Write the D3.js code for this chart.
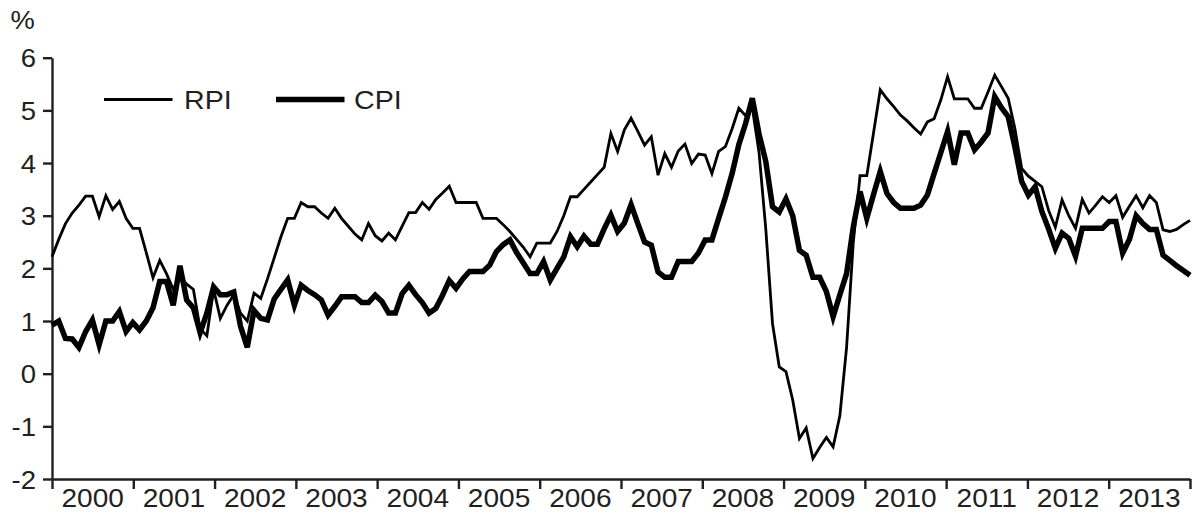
<!DOCTYPE html>
<html>
<head>
<meta charset="utf-8">
<script src="https://cdn.jsdelivr.net/npm/d3@7"></script>
<style>
  html, body { margin: 0; padding: 0; background: #fff; }
  svg { display: block; }
  text { font-family: "Liberation Sans", Arial, Helvetica, sans-serif; fill: #231f20; }
</style>
</head>
<body>
<svg id="chart" width="1192" height="515"></svg>
<script>
// Monthly observations, Jan 2000 onwards (12-month % change)
const years = [2000, 2001, 2002, 2003, 2004, 2005, 2006, 2007, 2008, 2009, 2010, 2011, 2012, 2013];
const yTicks = [-2, -1, 0, 1, 2, 3, 4, 5, 6];
const seriesNames = ["RPI", "CPI"];

const rpi = [
  2.22, 2.55, 2.85, 3.05, 3.2, 3.37, 3.37, 2.98, 3.38, 3.12, 3.27, 2.95,
  2.76, 2.76, 2.3, 1.82, 2.15, 1.9, 1.6, 1.85, 1.7, 1.6, 0.85, 0.72,
  1.6, 1.05, 1.3, 1.5, 1.15, 1.0, 1.53, 1.43, 1.8, 2.2, 2.6, 2.95,
  2.95, 3.25, 3.17, 3.17, 3.05, 2.95, 3.14, 2.95, 2.8, 2.65, 2.54, 2.85,
  2.62, 2.52, 2.67, 2.54, 2.8, 3.06, 3.06, 3.25, 3.12, 3.31, 3.43, 3.56,
  3.25, 3.25, 3.25, 3.25, 2.95, 2.95, 2.95, 2.83, 2.7, 2.55, 2.4, 2.22,
  2.48, 2.48, 2.48, 2.7, 3.0, 3.36, 3.36, 3.5, 3.64, 3.78, 3.92, 4.56,
  4.22, 4.63, 4.85, 4.6, 4.34, 4.5, 3.77, 4.18, 3.92, 4.23, 4.36, 3.99,
  4.17, 4.15, 3.8, 4.22, 4.31, 4.65, 5.04, 4.9, 5.05, 4.2, 2.75, 0.95,
  0.13, 0.04, -0.5, -1.23, -1.03, -1.61, -1.4, -1.21, -1.39, -0.8, 0.5, 2.5,
  3.76, 3.76, 4.57, 5.39, 5.22, 5.07, 4.91, 4.8, 4.67, 4.55, 4.78, 4.84,
  5.2, 5.64, 5.22, 5.22, 5.22, 5.04, 5.04, 5.35, 5.67, 5.45, 5.23, 4.65,
  3.9, 3.75, 3.65, 3.55, 3.1, 2.78, 3.3, 3.0, 2.76, 3.31, 3.05, 3.2,
  3.36, 3.25, 3.38, 2.97, 3.18, 3.38, 3.15, 3.38, 3.25, 2.73, 2.7, 2.74,
  2.83, 2.91
];

const cpi = [
  0.92, 1.0, 0.67, 0.66, 0.5, 0.8, 1.02, 0.55, 1.0, 1.0, 1.18, 0.8,
  0.97, 0.83, 1.0, 1.25, 1.75, 1.75, 1.3, 2.05, 1.4, 1.25, 0.78, 1.15,
  1.65, 1.5, 1.5, 1.55, 0.9, 0.5, 1.2, 1.05, 1.02, 1.42, 1.6, 1.78,
  1.3, 1.68, 1.58, 1.5, 1.4, 1.11, 1.28, 1.46, 1.46, 1.46, 1.35, 1.35,
  1.49, 1.37, 1.15, 1.15, 1.52, 1.68, 1.5, 1.35, 1.15, 1.24, 1.49, 1.77,
  1.62, 1.8, 1.94, 1.94, 1.94, 2.06, 2.32, 2.45, 2.54, 2.3, 2.1, 1.9,
  1.9, 2.13, 1.78, 2.0, 2.22, 2.6, 2.41, 2.61, 2.46, 2.46, 2.75, 3.01,
  2.7, 2.86, 3.21, 2.85, 2.5, 2.44, 1.93, 1.83, 1.83, 2.13, 2.13, 2.13,
  2.29, 2.54, 2.54, 2.95, 3.35, 3.8, 4.35, 4.75, 5.23, 4.55, 4.03, 3.17,
  3.07, 3.32, 3.0, 2.34, 2.25, 1.83, 1.83, 1.56, 1.08, 1.5, 1.9, 2.79,
  3.46, 2.95, 3.4, 3.84, 3.42, 3.25, 3.14, 3.14, 3.14, 3.2, 3.39, 3.8,
  4.2, 4.6, 3.97, 4.57, 4.57, 4.25, 4.4, 4.57, 5.26, 5.05, 4.88, 4.3,
  3.65, 3.39, 3.55, 3.08, 2.75, 2.38, 2.67, 2.57, 2.23, 2.76, 2.76, 2.76,
  2.76, 2.89, 2.89, 2.29, 2.55, 3.0, 2.85, 2.74, 2.74, 2.25, 2.15, 2.05,
  1.96, 1.87
];

const svg = d3.select("#chart");
const plotLeft = 52, plotRight = 1190, plotTop = 57.7, plotBottom = 479;
const stretch = 1.1; // horizontal widening of the lettering

const x = d3.scaleLinear().domain([0, rpi.length - 1]).range([plotLeft, plotRight]);
const xYear = d3.scaleLinear().domain([years[0], years[years.length - 1] + 1]).range([plotLeft, plotRight]);
const y = d3.scaleLinear().domain([-2, 6]).range([plotBottom, plotTop]);

// helper: stretched text anchored at (tx, ty)
function stretchedText(sel, tx, ty, s) {
  return sel.attr("x", tx / s).attr("y", ty).attr("transform", `scale(${s},1)`);
}

// Y axis
const yAxis = d3.axisLeft(y).tickValues(yTicks).tickSize(9).tickSizeOuter(0).tickPadding(7);
const gy = svg.append("g").attr("transform", `translate(${plotLeft},0)`).call(yAxis);
gy.selectAll("path, line").attr("stroke", "#231f20").attr("stroke-width", 2.4);
gy.selectAll("text").style("font-size", "25px").attr("fill", "#231f20").attr("dy", "0.36em")
  .text(d => d < 0 ? "-" + Math.abs(d) : d)
  .each(function () {
    const t = d3.select(this);
    const tx = +t.attr("x");
    t.attr("x", tx / stretch).attr("transform", `scale(${stretch},1)`);
  });

// X axis (year boundaries)
const xAxis = d3.axisBottom(xYear).tickValues(d3.range(years[0], years[years.length - 1] + 2))
  .tickSize(10).tickSizeOuter(0).tickFormat("");
const gx = svg.append("g").attr("transform", `translate(0,${plotBottom})`).call(xAxis);
gx.selectAll("path, line").attr("stroke", "#231f20").attr("stroke-width", 2.4);

// Year labels centred in each band
svg.append("g").selectAll("text").data(years).join("text")
  .attr("text-anchor", "middle")
  .style("font-size", "26px")
  .text(d => d)
  .each(function (d) { stretchedText(d3.select(this), xYear(d + 0.5), 507, 1.08); });

// % label
stretchedText(svg.append("text").style("font-size", "26px").text("%"), 10.5, 29, 1.05);

// Lines
const line = d3.line().x((d, i) => x(i)).y(d => y(d)).curve(d3.curveLinear);
svg.append("path").datum(rpi).attr("d", line)
  .attr("fill", "none").attr("stroke", "#000").attr("stroke-width", 2.8).attr("stroke-linejoin", "miter");
svg.append("path").datum(cpi).attr("d", line)
  .attr("fill", "none").attr("stroke", "#000").attr("stroke-width", 5.5).attr("stroke-linejoin", "miter");

// Legend
const legend = [
  { name: seriesNames[0], x1: 104, x2: 172.5, tx: 184, w: 2.8 },
  { name: seriesNames[1], x1: 276, x2: 344.5, tx: 354, w: 5.5 }
];
const lg = svg.append("g");
legend.forEach(l => {
  lg.append("line").attr("x1", l.x1).attr("x2", l.x2).attr("y1", 99.5).attr("y2", 99.5)
    .attr("stroke", "#000").attr("stroke-width", l.w);
  stretchedText(lg.append("text").attr("dy", "0.36em").style("font-size", "26px").text(l.name),
    l.tx, 99.5, 1.1);
});
</script>
</body>
</html>
